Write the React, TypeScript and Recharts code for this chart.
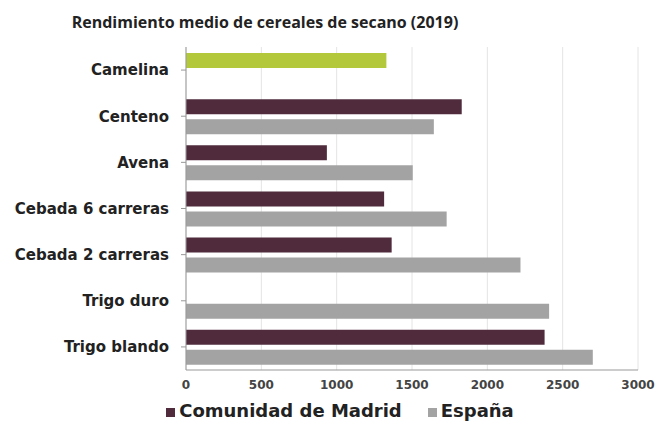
import React from 'react';
import {
  BarChart,
  Bar,
  XAxis,
  YAxis,
  CartesianGrid,
  Legend,
  Cell,
} from 'recharts';

// Rendimiento medio (kg/ha), secano 2019
const cultivos = [
  'Camelina',
  'Centeno',
  'Avena',
  'Cebada 6 carreras',
  'Cebada 2 carreras',
  'Trigo duro',
  'Trigo blando',
];
const madrid = [1330, 1830, 935, 1315, 1365, null, 2380];
const espana = [null, 1645, 1505, 1730, 2220, 2410, 2700];
const xTicks = [0, 500, 1000, 1500, 2000, 2500, 3000];

const data = cultivos.map((c, i) => ({
  cultivo: c,
  madrid: madrid[i],
  espana: espana[i],
}));

const TITLE_FONT = '"Open Sans", sans-serif';
const FONT = '"DejaVu Sans", sans-serif';

export default function App() {
  return (
    <div
      style={{
        position: 'absolute',
        top: 0,
        left: 0,
        width: 663,
        height: 425,
        background: '#fff',
        fontFamily: FONT,
      }}
    >
      <div
        style={{
          position: 'absolute',
          top: 11,
          left: 0,
          width: 530,
          textAlign: 'center',
          fontFamily: TITLE_FONT,
          fontSize: 16,
          fontWeight: 700,
          color: '#222',
        }}
      >
        Rendimiento medio de cereales de secano (2019)
      </div>
      <BarChart
        width={663}
        height={425}
        data={data}
        layout="vertical"
        margin={{ top: 47, right: 25, left: 0, bottom: 4 }}
        barSize={15}
        barGap={5}
      >
        <CartesianGrid horizontal={false} stroke="#e4e4e4" />
        <XAxis
          type="number"
          domain={[0, 3000]}
          ticks={xTicks}
          tickLine={false}
          axisLine={{ stroke: '#999' }}
          tick={{ fontSize: 12, fontWeight: 700, fill: '#444', fontFamily: FONT }}
          tickMargin={4}
          height={30}
        />
        <YAxis
          type="category"
          dataKey="cultivo"
          width={186}
          axisLine={{ stroke: '#999' }}
          tickLine={{ stroke: '#999' }}
          tickSize={5}
          tick={{ fontSize: 15, fontWeight: 700, fill: '#222', fontFamily: FONT }}
          tickMargin={12}
        />
        <Legend
          verticalAlign="bottom"
          iconType="square"
          iconSize={9}
          wrapperStyle={{ fontSize: 18, fontWeight: 700, paddingLeft: 26 }}
          formatter={(v) => (
            <span style={{ color: '#222', marginRight: v === 'España' ? 0 : 16 }}>{v}</span>
          )}
        />
        <Bar
          dataKey="madrid"
          name="Comunidad de Madrid"
          fill="#4f2b3c"
          isAnimationActive={false}
        >
          {data.map((d, i) => (
            <Cell key={i} fill={d.cultivo === 'Camelina' ? '#b4c83c' : '#4f2b3c'} />
          ))}
        </Bar>
        <Bar
          dataKey="espana"
          name="España"
          fill="#a3a3a3"
          isAnimationActive={false}
        />
      </BarChart>
    </div>
  );
}
